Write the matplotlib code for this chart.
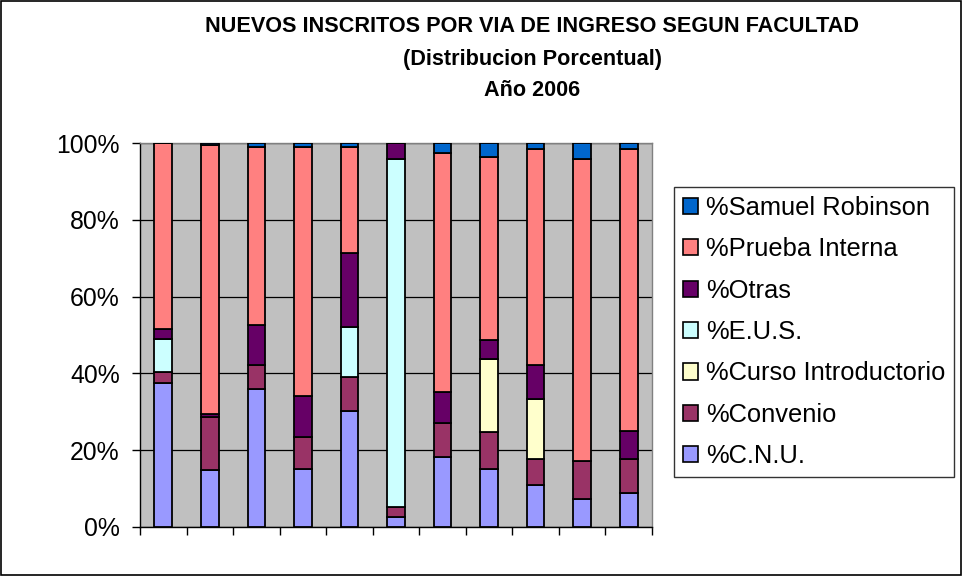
import matplotlib
matplotlib.use("Agg")
import matplotlib.pyplot as plt
from matplotlib.patches import Rectangle, Patch
import numpy as np

plt.rcParams['font.family'] = ['Liberation Sans', 'DejaVu Sans']

facultades = list(range(1, 12))
series_names = ["%C.N.U.", "%Convenio", "%Curso Introductorio", "%E.U.S.",
                "%Otras", "%Prueba Interna", "%Samuel Robinson"]
cnu = [37.5, 14.8, 36.0, 15.1, 30.3, 2.6, 18.2, 15.2, 11.0, 7.4, 8.9]
convenio = [2.9, 13.9, 6.3, 8.4, 8.8, 2.6, 8.9, 9.5, 6.8, 9.9, 8.8]
curso = [0, 0, 0, 0, 0, 0, 0, 19.1, 15.5, 0, 0]
eus = [8.6, 0, 0, 0, 12.9, 90.6, 0, 0, 0, 0, 0]
otras = [2.6, 0.6, 10.4, 10.5, 19.4, 4.2, 8.0, 4.8, 9.0, 0, 7.2]
prueba = [48.4, 70.3, 46.2, 64.9, 27.5, 0, 62.3, 47.7, 56.1, 78.5, 73.5]
samuel = [0, 0.4, 1.1, 1.1, 1.1, 0, 2.6, 3.7, 1.6, 4.2, 1.6]
y_ticklabels = ["0%", "20%", "40%", "60%", "80%", "100%"]
title_lines = ["NUEVOS INSCRITOS POR VIA DE INGRESO SEGUN FACULTAD",
               "(Distribucion Porcentual)", "Año 2006"]

colors = ["#9999FF", "#993366", "#FFFFCC", "#CCFFFF", "#660066", "#FF8080", "#0066CC"]
data = [cnu, convenio, curso, eus, otras, prueba, samuel]

fig = plt.figure(figsize=(9.63, 5.76), dpi=100)
fig.patches.append(Rectangle((0.001, 0.002), 0.997, 0.996, transform=fig.transFigure,
                             fill=False, edgecolor="black", linewidth=1.2))

ax = fig.add_axes([140/963, 1-527/576, 512/963, 384/576])
ax.set_facecolor("#C0C0C0")
x = np.arange(len(facultades))
bottom = np.zeros(len(facultades))
for vals, col, name in zip(data, colors, series_names):
    v = np.array(vals, dtype=float)
    ax.bar(x, v, bottom=bottom, width=0.38, color=col, edgecolor="black",
           linewidth=1.3, label=name, zorder=3)
    bottom += v

ax.set_xlim(-0.5, len(facultades) - 0.5)
ax.set_ylim(0, 100)
ax.set_yticks(np.arange(0, 101, 20))
ax.set_yticklabels(y_ticklabels, fontsize=17.8)
ax.set_xticks(np.arange(-0.5, len(facultades), 1.0))
ax.set_xticklabels([])
ax.tick_params(axis='y', direction='out', length=6, width=1, pad=8.5)
ax.tick_params(axis='x', direction='out', length=6, width=1)
ax.yaxis.grid(True, color="black", linewidth=0.9, zorder=1)
ax.set_axisbelow(True)
for s in ["top", "right"]:
    ax.spines[s].set_color("#808080")
    ax.spines[s].set_linewidth(1)
for s in ["left", "bottom"]:
    ax.spines[s].set_color("black")
    ax.spines[s].set_linewidth(1)

handles = [Patch(facecolor=c, edgecolor="black", linewidth=1.2) for c in colors][::-1]
labels = series_names[::-1]
leg = fig.legend(handles, labels, loc="upper left",
                 bbox_to_anchor=(674/963, 1-187/576), bbox_transform=fig.transFigure,
                 fontsize=18.4, frameon=True, fancybox=False, edgecolor="black",
                 handlelength=0.6, handleheight=0.6, handletextpad=0.3,
                 labelspacing=0.68, borderpad=0.35, borderaxespad=0)
leg.get_frame().set_linewidth(1)

title_y = [27, 59, 91]
for line, yy in zip(title_lines, title_y):
    fig.text(532/963, 1-yy/576, line, ha="center", va="center", fontsize=15.6,
             fontweight="bold")

fig.savefig("out.png", dpi=100)
